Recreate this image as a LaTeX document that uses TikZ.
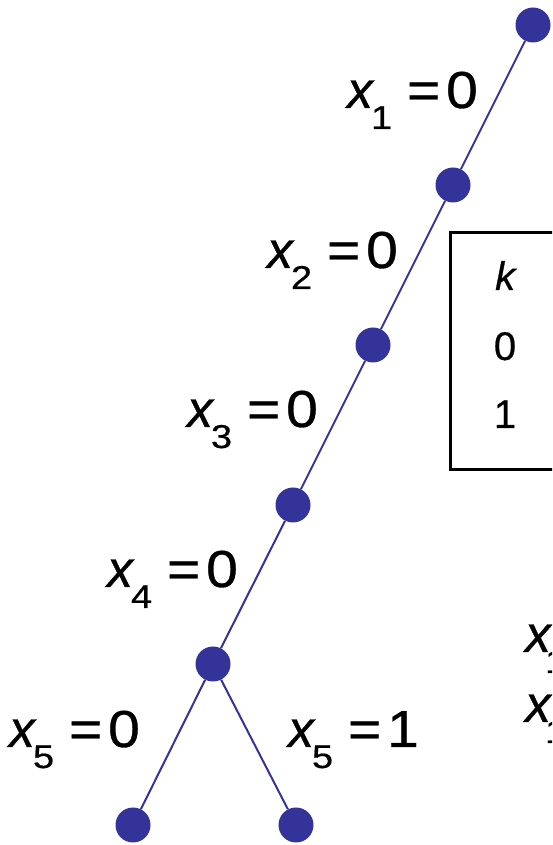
\documentclass[tikz,border=0pt]{standalone}
\usepackage{fontspec}
\setmainfont{Liberation Sans}[FakeBold=0.6]
\newfontfamily\eqfontfam[FakeStretch=1.1,FakeBold=0.6]{Liberation Sans}
\newfontfamily\subfontfam[FakeStretch=1.15,FakeBold=0.6]{Liberation Sans}
\definecolor{dotblue}{RGB}{51,51,153}
\newcommand\xvar{{\fontsize{52}{52}\selectfont\itshape x}}
\newcommand\subdig[1]{\raisebox{-21pt}{\subfontfam\fontsize{33}{33}\selectfont #1}}
\newcommand\xsub[1]{\hbox{\rlap{\xvar}\kern20pt\rlap{\subdig{#1}}}}
\newcommand\eqlab[2]{\hbox to 130pt{\rlap{\xvar}\kern24pt\rlap{\subdig{#1}}\kern36pt\rlap{\eqfontfam\fontsize{52}{52}\selectfont =}\kern55pt\makebox[0pt]{\eqfontfam\fontsize{52}{52}\selectfont #2}\hfil}}
\tikzset{
  dot/.style={circle,fill=dotblue,draw=none,minimum size=35pt,inner sep=0pt},
  edge/.style={draw=dotblue,line width=2pt},
  lbl/.style={anchor=base west,inner sep=0pt,outer sep=0pt},
  tbl/.style={anchor=base,inner sep=0pt,font=\fontsize{40}{40}\selectfont},
  tablebox/.style={draw=black,line width=3pt}
}
\begin{document}
\begin{tikzpicture}[x=1pt,y=1pt]
\path[use as bounding box] (0,0) rectangle (552,845);
\clip (0,0) rectangle (552,845);
% nodes
\node[dot] (n0) at (533,820) {};
\node[dot] (n1) at (453,660) {};
\node[dot] (n2) at (373,500) {};
\node[dot] (n3) at (293,340) {};
\node[dot] (n4) at (213,181) {};
\node[dot] (n5) at (133,20) {};
\node[dot] (n6) at (296,20) {};
% edges
\draw[edge] (n0) -- (n1);
\draw[edge] (n1) -- (n2);
\draw[edge] (n2) -- (n3);
\draw[edge] (n3) -- (n4);
\draw[edge] (n4) -- (n5);
\draw[edge] (n4) -- (n6);
% labels
\node[lbl] (l1) at (347,737) {\eqlab{1}{0}};
\node[lbl] (l2) at (267,577) {\eqlab{2}{0}};
\node[lbl] (l3) at (187,418) {\eqlab{3}{0}};
\node[lbl] (l4) at (107,258) {\eqlab{4}{0}};
\node[lbl] (l5a) at (9,98) {\eqlab{5}{0}};
\node[lbl] (l5b) at (288,98) {\eqlab{5}{1}};
% table box
\draw[tablebox] (450,612) rectangle (570,375);
\node[tbl] (tk) at (506,555) {\textit{k}};
\node[tbl] (t0) at (505,485) {0};
\node[tbl] (t1) at (505,417) {1};
% partial labels at right edge
\node[lbl] (r1) at (525,193) {\xsub{1}};
\node[lbl] (r2) at (525,123) {\xsub{1}};
\end{tikzpicture}
\end{document}
